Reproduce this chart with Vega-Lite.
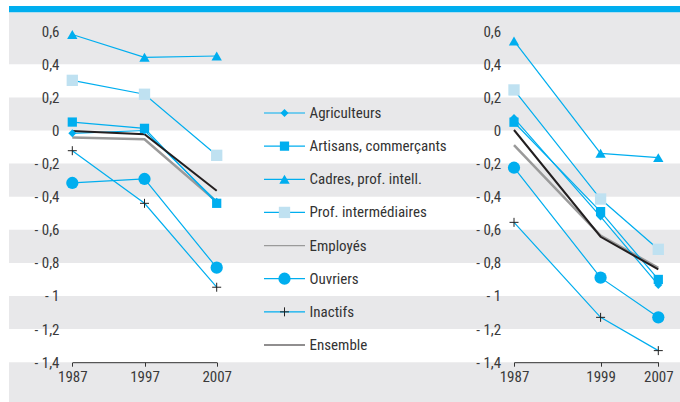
{
  "$schema": "https://vega.github.io/schema/vega-lite/v6.json",
  "width": 680,
  "height": 402,
  "autosize": {"type": "fit", "contains": "padding"},
  "padding": {"left": 9, "right": 0, "top": 0, "bottom": 0},
  "background": "#ffffff",
  "config": {
    "view": {"stroke": null},
    "font": "Liberation Sans Narrow, Roboto Condensed, DejaVu Sans Condensed, Liberation Sans, sans-serif",
    "axis": {
      "labelFont": "Liberation Sans Narrow, Roboto Condensed, DejaVu Sans Condensed, Liberation Sans, sans-serif",
      "labelFontSize": 15,
      "labelColor": "#3a3a3a",
      "labelFlush": false,
      "labelOverlap": false,
      "grid": false,
      "title": null,
      "zindex": 1
    }
  },
  "datasets": {
    "bands": [
      {"lo": 0.4, "hi": 0.714},
      {"lo": 0.0, "hi": 0.2},
      {"lo": -0.4, "hi": -0.2},
      {"lo": -0.8, "hi": -0.6},
      {"lo": -1.2, "hi": -1.0},
      {"lo": -1.6405, "hi": -1.4}
    ],
    "topbar": [{"lo": 0.714, "hi": 0.752}],
    "left": [
      {"series": "Agriculteurs", "year": 1987, "value": -0.017},
      {"series": "Agriculteurs", "year": 1997, "value": 0.0},
      {"series": "Agriculteurs", "year": 2007, "value": -0.43},
      {"series": "Artisans, commerçants", "year": 1987, "value": 0.051},
      {"series": "Artisans, commerçants", "year": 1997, "value": 0.013},
      {"series": "Artisans, commerçants", "year": 2007, "value": -0.44},
      {"series": "Cadres, prof. intell.", "year": 1987, "value": 0.58},
      {"series": "Cadres, prof. intell.", "year": 1997, "value": 0.442},
      {"series": "Cadres, prof. intell.", "year": 2007, "value": 0.45},
      {"series": "Prof. intermédiaires", "year": 1987, "value": 0.303},
      {"series": "Prof. intermédiaires", "year": 1997, "value": 0.219},
      {"series": "Prof. intermédiaires", "year": 2007, "value": -0.15},
      {"series": "Employés", "year": 1987, "value": -0.043},
      {"series": "Employés", "year": 1997, "value": -0.053},
      {"series": "Employés", "year": 2007, "value": -0.43},
      {"series": "Ouvriers", "year": 1987, "value": -0.317},
      {"series": "Ouvriers", "year": 1997, "value": -0.293},
      {"series": "Ouvriers", "year": 2007, "value": -0.829},
      {"series": "Inactifs", "year": 1987, "value": -0.122},
      {"series": "Inactifs", "year": 1997, "value": -0.44},
      {"series": "Inactifs", "year": 2007, "value": -0.947},
      {"series": "Ensemble", "year": 1987, "value": -0.003},
      {"series": "Ensemble", "year": 1997, "value": -0.023},
      {"series": "Ensemble", "year": 2007, "value": -0.364}
    ],
    "right": [
      {"series": "Agriculteurs", "year": 1987, "value": 0.075},
      {"series": "Agriculteurs", "year": 1999, "value": -0.52},
      {"series": "Agriculteurs", "year": 2007, "value": -0.933},
      {"series": "Artisans, commerçants", "year": 1987, "value": 0.05},
      {"series": "Artisans, commerçants", "year": 1999, "value": -0.49},
      {"series": "Artisans, commerçants", "year": 2007, "value": -0.9},
      {"series": "Cadres, prof. intell.", "year": 1987, "value": 0.541},
      {"series": "Cadres, prof. intell.", "year": 1999, "value": -0.138},
      {"series": "Cadres, prof. intell.", "year": 2007, "value": -0.164},
      {"series": "Prof. intermédiaires", "year": 1987, "value": 0.245},
      {"series": "Prof. intermédiaires", "year": 1999, "value": -0.414},
      {"series": "Prof. intermédiaires", "year": 2007, "value": -0.718},
      {"series": "Employés", "year": 1987, "value": -0.088},
      {"series": "Employés", "year": 1999, "value": -0.635},
      {"series": "Employés", "year": 2007, "value": -0.83},
      {"series": "Ouvriers", "year": 1987, "value": -0.225},
      {"series": "Ouvriers", "year": 1999, "value": -0.889},
      {"series": "Ouvriers", "year": 2007, "value": -1.129},
      {"series": "Inactifs", "year": 1987, "value": -0.555},
      {"series": "Inactifs", "year": 1999, "value": -1.129},
      {"series": "Inactifs", "year": 2007, "value": -1.33},
      {"series": "Ensemble", "year": 1987, "value": 0.003},
      {"series": "Ensemble", "year": 1999, "value": -0.642},
      {"series": "Ensemble", "year": 2007, "value": -0.839}
    ],
    "legend": [
      {"series": "Agriculteurs"},
      {"series": "Artisans, commerçants"},
      {"series": "Cadres, prof. intell."},
      {"series": "Prof. intermédiaires"},
      {"series": "Employés"},
      {"series": "Ouvriers"},
      {"series": "Inactifs"},
      {"series": "Ensemble"}
    ]
  },
  "layer": [
    {
      "layer": [
        {
          "data": {"name": "bands"},
          "mark": {"type": "rect", "color": "#e8e8ea"},
          "encoding": {
            "y": {"field": "lo", "type": "quantitative", "scale": {"domain": [-1.6405, 0.7885], "nice": false, "zero": false}, "axis": null},
            "y2": {"field": "hi"}
          }
        },
        {
          "data": {"name": "topbar"},
          "mark": {"type": "rect", "color": "#00aeef"},
          "encoding": {
            "y": {"field": "lo", "type": "quantitative"},
            "y2": {"field": "hi"}
          }
        }
      ]
    },
    {
      "data": {"name": "left"},
      "encoding": {
        "x": {"field": "year", "type": "quantitative", "scale": {"domain": [1987, 2007], "range": [63.3, 207.7], "nice": false, "zero": false},
          "axis": {"orient": "bottom", "offset": -39.8, "values": [1987, 1997, 2007], "format": "d", "domain": true, "domainColor": "#333333", "domainWidth": 1, "ticks": true, "tickColor": "#333333", "tickSize": 4, "labelPadding": 3, "labelFlush": false, "grid": false, "zindex": 1}},
        "y": {"field": "value", "type": "quantitative", "scale": {"domain": [-1.6405, 0.7885], "nice": false, "zero": false},
          "axis": {"orient": "left", "offset": -50, "values": [0.6, 0.4, 0.2, 0, -0.2, -0.4, -0.6, -0.8, -1, -1.2, -1.4], "labelExpr": "datum.value == 0 ? '0' : (datum.value < 0 ? '- ' : '') + replace(format(abs(datum.value), '.1~f'), '.', ',')", "domain": false, "ticks": false, "labelPadding": 0, "labelFlush": false, "grid": false, "zindex": 1}}
      },
      "layer": [
        {"transform": [{"filter": "datum.series == 'Employés'"}], "mark": {"type": "line", "color": "#9a9a9a", "strokeWidth": 2.5}},
        {"transform": [{"filter": "datum.series != 'Employés' && datum.series != 'Ensemble'"}], "mark": {"type": "line", "color": "#00aeef", "strokeWidth": 1.2}, "encoding": {"detail": {"field": "series"}}},
        {"transform": [{"filter": "datum.series == 'Ensemble'"}], "mark": {"type": "line", "color": "#231f20", "strokeWidth": 2}},
        {"transform": [{"filter": "datum.series != 'Employés' && datum.series != 'Ensemble' && datum.series != 'Inactifs'"}],
          "mark": {"type": "point", "filled": true, "opacity": 1},
          "encoding": {
            "shape": {"field": "series", "type": "nominal", "scale": {"domain": ["Agriculteurs", "Artisans, commerçants", "Cadres, prof. intell.", "Prof. intermédiaires", "Ouvriers"], "range": ["diamond", "square", "triangle-up", "square", "circle"]}, "legend": null},
            "fill": {"field": "series", "type": "nominal", "scale": {"domain": ["Agriculteurs", "Artisans, commerçants", "Cadres, prof. intell.", "Prof. intermédiaires", "Ouvriers"], "range": ["#00aeef", "#00aeef", "#00aeef", "#bfe1f1", "#00aeef"]}, "legend": null},
            "size": {"field": "series", "type": "nominal", "scale": {"domain": ["Agriculteurs", "Artisans, commerçants", "Cadres, prof. intell.", "Prof. intermédiaires", "Ouvriers"], "range": [64, 150, 110, 150, 105]}, "legend": null}
          }},
        {"transform": [{"filter": "datum.series == 'Inactifs'"}], "mark": {"type": "point", "shape": "M-1,0H1M0,-1V1", "filled": false, "stroke": "#222222", "strokeWidth": 1, "size": 81, "opacity": 1}}
      ]
    },
    {
      "data": {"name": "right"},
      "encoding": {
        "x": {"field": "year", "type": "quantitative", "scale": {"domain": [1987, 2007], "range": [505, 649.3], "nice": false, "zero": false},
          "axis": {"orient": "bottom", "offset": -39.8, "values": [1987, 1999, 2007], "format": "d", "domain": true, "domainColor": "#333333", "domainWidth": 1, "ticks": true, "tickColor": "#333333", "tickSize": 4, "labelPadding": 3, "labelFlush": false, "grid": false, "zindex": 1}},
        "y": {"field": "value", "type": "quantitative", "scale": {"domain": [-1.6405, 0.7885], "nice": false, "zero": false},
          "axis": {"orient": "left", "offset": -491.7, "values": [0.6, 0.4, 0.2, 0, -0.2, -0.4, -0.6, -0.8, -1, -1.2, -1.4], "labelExpr": "datum.value == 0 ? '0' : (datum.value < 0 ? '- ' : '') + replace(format(abs(datum.value), '.1~f'), '.', ',')", "domain": false, "ticks": false, "labelPadding": 0, "labelFlush": false, "grid": false, "zindex": 1}}
      },
      "layer": [
        {"transform": [{"filter": "datum.series == 'Employés'"}], "mark": {"type": "line", "color": "#9a9a9a", "strokeWidth": 2.5}},
        {"transform": [{"filter": "datum.series != 'Employés' && datum.series != 'Ensemble'"}], "mark": {"type": "line", "color": "#00aeef", "strokeWidth": 1.2}, "encoding": {"detail": {"field": "series"}}},
        {"transform": [{"filter": "datum.series == 'Ensemble'"}], "mark": {"type": "line", "color": "#231f20", "strokeWidth": 2}},
        {"transform": [{"filter": "datum.series != 'Employés' && datum.series != 'Ensemble' && datum.series != 'Inactifs'"}],
          "mark": {"type": "point", "filled": true, "opacity": 1},
          "encoding": {
            "shape": {"field": "series", "type": "nominal", "scale": {"domain": ["Agriculteurs", "Artisans, commerçants", "Cadres, prof. intell.", "Prof. intermédiaires", "Ouvriers"], "range": ["diamond", "square", "triangle-up", "square", "circle"]}, "legend": null},
            "fill": {"field": "series", "type": "nominal", "scale": {"domain": ["Agriculteurs", "Artisans, commerçants", "Cadres, prof. intell.", "Prof. intermédiaires", "Ouvriers"], "range": ["#00aeef", "#00aeef", "#00aeef", "#bfe1f1", "#00aeef"]}, "legend": null},
            "size": {"field": "series", "type": "nominal", "scale": {"domain": ["Agriculteurs", "Artisans, commerçants", "Cadres, prof. intell.", "Prof. intermédiaires", "Ouvriers"], "range": [64, 150, 110, 150, 105]}, "legend": null}
          }},
        {"transform": [{"filter": "datum.series == 'Inactifs'"}], "mark": {"type": "point", "shape": "M-1,0H1M0,-1V1", "filled": false, "stroke": "#222222", "strokeWidth": 1, "size": 81, "opacity": 1}}
      ]
    },
    {
      "data": {"name": "legend"},
      "encoding": {
        "y": {"field": "series", "type": "nominal", "sort": null, "scale": {"type": "point", "domain": ["Agriculteurs", "Artisans, commerçants", "Cadres, prof. intell.", "Prof. intermédiaires", "Employés", "Ouvriers", "Inactifs", "Ensemble"], "range": [113, 345], "padding": 0}, "axis": null}
      },
      "layer": [
        {
          "mark": {"type": "rule"},
          "encoding": {
            "x": {"datum": 0, "type": "quantitative", "scale": {"domain": [0, 1], "range": [255, 296], "nice": false, "zero": false}, "axis": null},
            "x2": {"datum": 1},
            "stroke": {"field": "series", "type": "nominal", "scale": {"domain": ["Agriculteurs", "Artisans, commerçants", "Cadres, prof. intell.", "Prof. intermédiaires", "Employés", "Ouvriers", "Inactifs", "Ensemble"], "range": ["#00aeef", "#00aeef", "#00aeef", "#00aeef", "#9a9a9a", "#00aeef", "#00aeef", "#231f20"]}, "legend": null},
            "strokeWidth": {"field": "series", "type": "nominal", "scale": {"domain": ["Agriculteurs", "Artisans, commerçants", "Cadres, prof. intell.", "Prof. intermédiaires", "Employés", "Ouvriers", "Inactifs", "Ensemble"], "range": [1.2, 1.2, 1.2, 1.2, 2.5, 1.2, 1.2, 2]}, "legend": null}
          }
        },
        {
          "transform": [{"filter": "datum.series != 'Employés' && datum.series != 'Ensemble' && datum.series != 'Inactifs'"}],
          "mark": {"type": "point", "filled": true, "opacity": 1},
          "encoding": {
            "x": {"datum": 0.5, "type": "quantitative"},
            "shape": {"field": "series", "type": "nominal", "scale": {"domain": ["Agriculteurs", "Artisans, commerçants", "Cadres, prof. intell.", "Prof. intermédiaires", "Ouvriers"], "range": ["diamond", "square", "triangle-up", "square", "circle"]}, "legend": null},
            "fill": {"field": "series", "type": "nominal", "scale": {"domain": ["Agriculteurs", "Artisans, commerçants", "Cadres, prof. intell.", "Prof. intermédiaires", "Ouvriers"], "range": ["#00aeef", "#00aeef", "#00aeef", "#bfe1f1", "#00aeef"]}, "legend": null},
            "size": {"field": "series", "type": "nominal", "scale": {"domain": ["Agriculteurs", "Artisans, commerçants", "Cadres, prof. intell.", "Prof. intermédiaires", "Ouvriers"], "range": [64, 150, 110, 150, 105]}, "legend": null}
          }
        },
        {
          "transform": [{"filter": "datum.series == 'Inactifs'"}],
          "mark": {"type": "point", "shape": "M-1,0H1M0,-1V1", "filled": false, "stroke": "#222222", "strokeWidth": 1, "size": 81, "opacity": 1},
          "encoding": {"x": {"datum": 0.5, "type": "quantitative"}}
        },
        {
          "mark": {"type": "text", "align": "left", "baseline": "middle", "fontSize": 15, "color": "#333333"},
          "encoding": {
            "x": {"datum": 1.11, "type": "quantitative"},
            "text": {"field": "series"}
          }
        }
      ]
    }
  ],
  "resolve": {"scale": {"x": "independent", "y": "independent"}, "axis": {"x": "independent", "y": "independent"}}
}
